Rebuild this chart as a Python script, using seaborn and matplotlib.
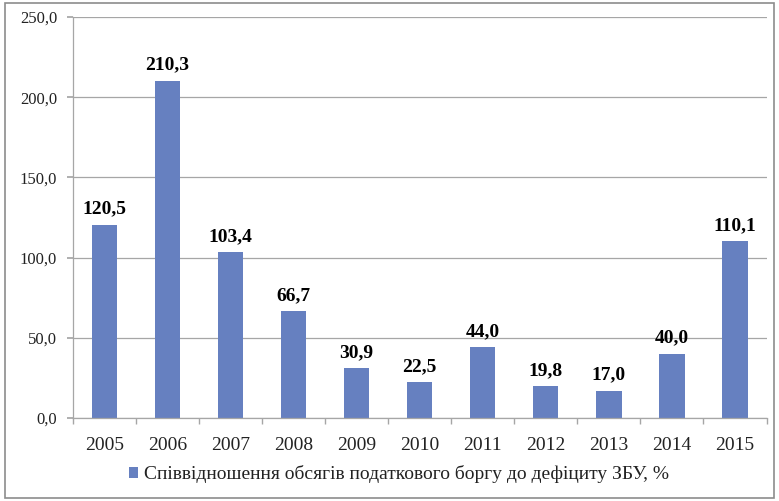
import matplotlib
matplotlib.use("Agg")
import matplotlib.pyplot as plt
import seaborn as sns
import pandas as pd
from matplotlib.patches import Rectangle

years = ["2005", "2006", "2007", "2008", "2009", "2010", "2011", "2012", "2013", "2014", "2015"]
values = [120.5, 210.3, 103.4, 66.7, 30.9, 22.5, 44.0, 19.8, 17.0, 40.0, 110.1]
series_name = "Співвідношення обсягів податкового боргу до дефіциту ЗБУ, %"
yticks = [0, 50, 100, 150, 200, 250]

sns.set_theme(style="white")
plt.rcParams['font.family'] = ['Liberation Serif', 'DejaVu Serif']

df = pd.DataFrame({"year": years, "value": values})
color = "#6680C0"

fig = plt.figure(figsize=(7.79, 5.01), dpi=100)
ax = fig.add_axes([0.0937, 0.1657, 0.8903, 0.8003])

sns.barplot(data=df, x="year", y="value", color=color, width=0.40,
            saturation=1, ax=ax, label=series_name, edgecolor="none")

ax.set_ylim(0, 250)
ax.set_xlim(-0.5, len(years) - 0.5)
ax.set_yticks(yticks)
ax.set_yticklabels([f"{v:.1f}".replace(".", ",") for v in yticks], fontsize=12)
ax.set_xlabel("")
ax.set_ylabel("")
ax.yaxis.grid(True, color="#A6A6A6", linewidth=0.9)
ax.set_axisbelow(True)

for s in ["top", "right"]:
    ax.spines[s].set_visible(False)
for s in ["left", "bottom"]:
    ax.spines[s].set_color("#A6A6A6")
    ax.spines[s].set_linewidth(0.9)

ax.tick_params(axis="y", which="both", left=True, length=4, color="#A6A6A6", pad=7.5,
               labelsize=12, labelcolor="#222222")
ax.set_xticks(range(len(years)))
ax.set_xticklabels(years, fontsize=14)
ax.tick_params(axis="x", which="major", bottom=False, pad=8, labelsize=14, labelcolor="#222222")
ax.set_xticks([i - 0.5 for i in range(len(years) + 1)], minor=True)
ax.tick_params(axis="x", which="minor", bottom=True, length=4.5, color="#A6A6A6", direction="out")

for i, v in enumerate(values):
    ax.annotate(f"{v:.1f}".replace(".", ","), xy=(i, v), xytext=(0, 8),
                textcoords="offset points", ha="center", va="baseline",
                fontsize=14, fontweight="bold", color="black")

leg = ax.legend(loc="center", bbox_to_anchor=(0.47, -0.14), frameon=False,
                fontsize=14, handlelength=0.5, handleheight=0.5, handletextpad=0.3,
                labelcolor="#222222")

fig.patches.append(Rectangle((0.007, 0.006), 0.987, 0.988, transform=fig.transFigure,
                             fill=False, edgecolor="#8C8C8C", linewidth=1.2))

fig.savefig("out.png", dpi=100)
